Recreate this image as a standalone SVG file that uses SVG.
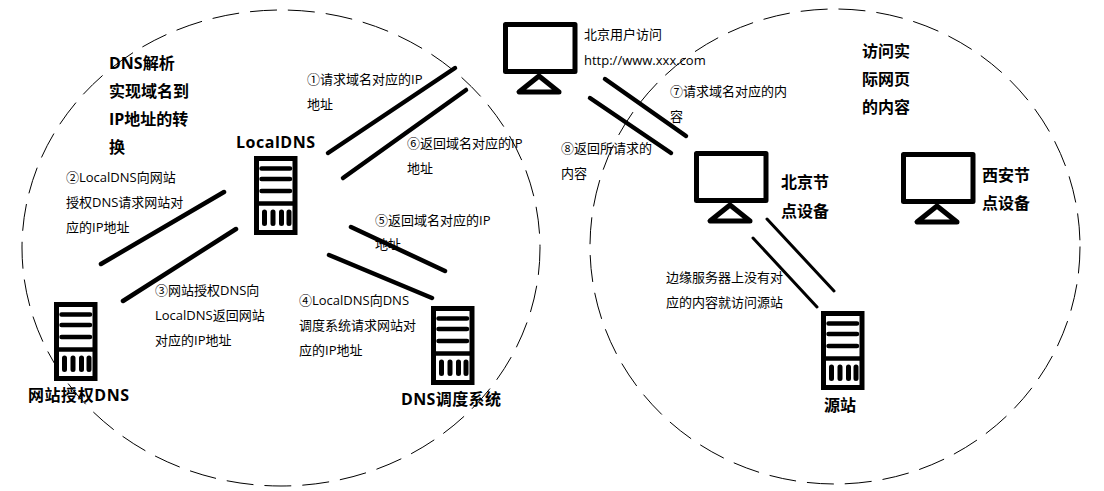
<svg xmlns="http://www.w3.org/2000/svg" width="1104" height="491" viewBox="0 0 1104 491">
<defs>
<style>
text{font-family:"Open Sans","Noto Sans CJK SC",sans-serif;font-size:13px;fill:#000}
.b{font-size:16px;font-weight:700}
.c{fill:none;stroke:#000;stroke-width:1;stroke-dasharray:27 11}
.l{stroke:#000;stroke-width:4.500;stroke-linecap:round}
.t{stroke:#000;stroke-width:3;stroke-linecap:round}
.k{fill:#fff;stroke:#000;stroke-width:5;stroke-linejoin:round}
.s{stroke:#000;stroke-width:4.500;stroke-linecap:round}
.s2{stroke:#000;stroke-width:5;stroke-linecap:round}
</style>
<g id="mon"><rect class="k" x="2.500" y="2.500" width="69.500" height="47"/><path class="k" d="M36 54L16 70H56Z"/></g>
<g id="srv"><rect x="2.500" y="2.500" width="38.500" height="74" fill="#fff" stroke="#000" stroke-width="5"/><path d="M2 47.500H41" stroke="#000" stroke-width="4.500"/><path class="s" d="M7.500 12.500H36M7.500 23H36M7.500 35H36"/><path class="s2" d="M10.500 56V67.500M19 56V67.500M27.500 56V67.500M35 56V67.500"/></g>
</defs>
<rect width="1104" height="491" fill="#fff"/>
<g id="regions"><ellipse class="c" cx="281" cy="248" rx="259" ry="238"/><ellipse class="c" cx="835" cy="246.500" rx="245" ry="237.500"/></g>
<g id="connectors">
<line class="l" x1="328" y1="153" x2="455" y2="68"/><line class="l" x1="343" y1="178" x2="466" y2="90"/>
<line class="l" x1="101" y1="264" x2="224" y2="192"/><line class="l" x1="123" y1="301" x2="236" y2="229"/>
<line class="l" x1="351" y1="227" x2="445" y2="271"/><line class="l" x1="329" y1="255" x2="432" y2="298"/>
<line class="l" x1="605" y1="79" x2="686" y2="136"/><line class="l" x1="590" y1="98" x2="671" y2="153"/>
<line class="t" x1="753" y1="238" x2="817" y2="307"/><line class="t" x1="767" y1="219" x2="834" y2="291"/>
</g>
<g id="user"><use href="#mon" x="503" y="22"/><text x="584" y="39">北京用户访问</text><text x="584" y="65">http://www.xxx.com</text></g>
<g id="beijing"><use href="#mon" x="694" y="151"/><text class="b" x="781" y="188">北京节</text><text class="b" x="781" y="217">点设备</text></g>
<g id="xian"><use href="#mon" x="901" y="152"/><text class="b" x="982" y="181">西安节</text><text class="b" x="982" y="209">点设备</text></g>
<g id="localdns"><text class="b" x="236" y="148" textLength="79">LocalDNS</text><use href="#srv" x="254" y="156"/></g>
<g id="auth"><use href="#srv" x="54" y="302"/><text class="b" x="28" y="401" textLength="101">网站授权DNS</text></g>
<g id="sched"><use href="#srv" x="431" y="306"/><text class="b" x="401" y="405" textLength="100">DNS调度系统</text></g>
<g id="origin"><use href="#srv" x="821" y="311"/><text class="b" x="824" y="411">源站</text></g>
<g id="notes">
<text class="b" x="109" y="69">DNS解析</text><text class="b" x="109" y="97">实现域名到</text><text class="b" x="109" y="125">IP地址的转</text><text class="b" x="109" y="153">换</text>
<text class="b" x="862" y="57">访问实</text><text class="b" x="862" y="85">际网页</text><text class="b" x="862" y="113">的内容</text>
<text x="307" y="84">①请求域名对应的IP</text><text x="307" y="109">地址</text>
<text x="407" y="148">⑥返回域名对应的IP</text><text x="407" y="173">地址</text>
<text x="66" y="182">②LocalDNS向网站</text><text x="66" y="207">授权DNS请求网站对</text><text x="66" y="232">应的IP地址</text>
<text x="375" y="225">⑤返回域名对应的IP</text><text x="375" y="249">地址</text>
<text x="155" y="295">③网站授权DNS向</text><text x="155" y="320">LocalDNS返回网站</text><text x="155" y="345">对应的IP地址</text>
<text x="299" y="305">④LocalDNS向DNS</text><text x="299" y="330">调度系统请求网站对</text><text x="299" y="355">应的IP地址</text>
<text x="670" y="96">⑦请求域名对应的内</text><text x="670" y="121">容</text>
<text x="561" y="153">⑧返回所请求的</text><text x="561" y="178">内容</text>
<text x="666" y="282">边缘服务器上没有对</text><text x="666" y="307">应的内容就访问源站</text>
</g>
</svg>
